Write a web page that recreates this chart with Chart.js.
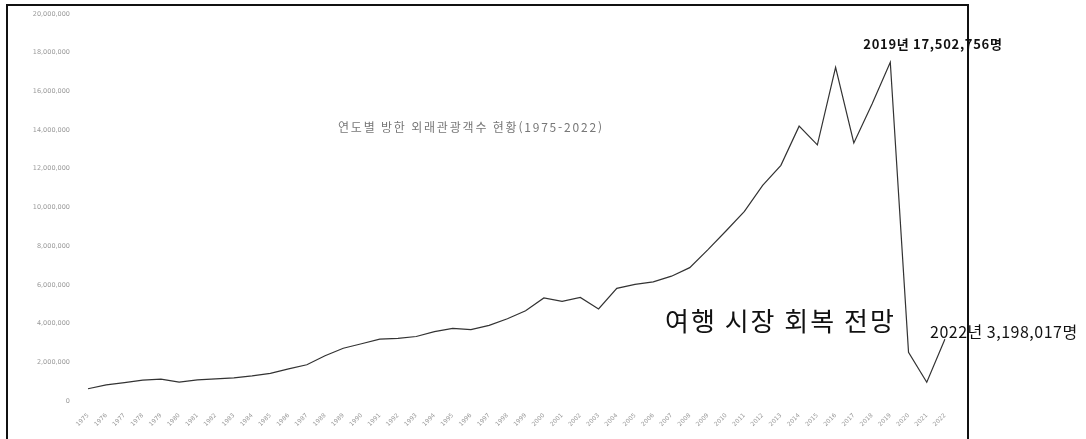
<!DOCTYPE html>
<html lang="ko">
<head>
<meta charset="utf-8">
<script src="https://cdn.jsdelivr.net/npm/chart.js@4"></script>
<style>
  html, body { margin: 0; padding: 0; background: #fff; }
  #wrap { width: 1086px; height: 439px; position: relative; }
</style>
</head>
<body>
<div id="wrap"><canvas id="chart"></canvas></div>
<script>
// 연도별 방한 외래관광객수 (1975-2022)
const years = [
  '1975','1976','1977','1978','1979','1980','1981','1982','1983','1984',
  '1985','1986','1987','1988','1989','1990','1991','1992','1993','1994',
  '1995','1996','1997','1998','1999','2000','2001','2002','2003','2004',
  '2005','2006','2007','2008','2009','2010','2011','2012','2013','2014',
  '2015','2016','2017','2018','2019','2020','2021','2022'
];
const visitors = [
  632846, 834239, 949666, 1079396, 1126100, 976415, 1093214, 1145044, 1194551, 1297318,
  1426045, 1659972, 1874501, 2340462, 2728054, 2958839, 3196340, 3231081, 3331226, 3580024,
  3753197, 3683779, 3908140, 4250216, 4659785, 5321792, 5147204, 5347468, 4752762, 5818138,
  6022752, 6155046, 6448240, 6890841, 7817533, 8797658, 9794796, 11140028, 12175550, 14201516,
  13231651, 17241823, 13335758, 15346879, 17502756, 2519118, 967003, 3198017
];
const yTicks = { min: 0, max: 20000000, step: 2000000 };

const chartTitle = '연도별 방한 외래관광객수 현황(1975-2022)';
const notePeak = '2019년 17,502,756명';
const noteLast = '2022년 3,198,017명';
const noteOutlook = '여행 시장 회복 전망';

// 제목, 메모, 테두리 그리기
const notes = {
  id: 'notes',
  afterDraw(chart) {
    const ctx = chart.ctx;
    const xs = chart.scales.x, ys = chart.scales.y;
    const area = chart.chartArea;
    ctx.save();

    // 스캔 이미지 테두리
    ctx.strokeStyle = '#111';
    ctx.lineWidth = 2;
    ctx.beginPath();
    ctx.moveTo(7, 439);
    ctx.lineTo(7, 5);
    ctx.lineTo(968, 5);
    ctx.lineTo(968, 439);
    ctx.stroke();

    ctx.textBaseline = 'middle';

    ctx.fillStyle = '#777';
    ctx.font = '12px "Noto Sans CJK KR"';
    ctx.letterSpacing = '1.8px';
    ctx.textAlign = 'left';
    ctx.fillText(chartTitle, 338, 127);

    ctx.fillStyle = '#111';
    const i19 = years.indexOf('2019');
    ctx.font = 'bold 13px "Noto Sans CJK KR"';
    ctx.letterSpacing = '0.7px';
    ctx.fillText(notePeak, xs.getPixelForValue(i19) - 27, ys.getPixelForValue(visitors[i19]) - 18);

    const i22 = years.indexOf('2022');
    ctx.font = '16px "Noto Sans CJK KR"';
    ctx.letterSpacing = '0.5px';
    ctx.fillText(noteLast, xs.getPixelForValue(i22) - 15, ys.getPixelForValue(visitors[i22]) - 7);

    ctx.font = '26px "Noto Sans CJK KR"';
    ctx.letterSpacing = '2px';
    ctx.fillText(noteOutlook, 665, 321);

    ctx.restore();
  }
};

new Chart(document.getElementById('chart'), {
  type: 'line',
  data: {
    labels: years,
    datasets: [{
      label: '방한 외래관광객수',
      data: visitors,
      borderColor: '#333',
      borderWidth: 1.2,
      pointRadius: 0,
      tension: 0,
      fill: false
    }]
  },
  options: {
    responsive: true,
    maintainAspectRatio: false,
    animation: false,
    layout: { padding: { left: 0, right: 141, top: 10, bottom: 0 } },
    plugins: {
      legend: { display: false },
      tooltip: { enabled: false }
    },
    scales: {
      x: {
        grid: { display: false },
        border: { display: false },
        ticks: {
          autoSkip: false,
          minRotation: 45,
          maxRotation: 45,
          color: '#999',
          font: { size: 6, family: 'DejaVu Sans' },
          padding: 3
        },
        afterFit(s) { s.height = 38; }
      },
      y: {
        min: yTicks.min,
        max: yTicks.max,
        grid: { display: false },
        border: { display: false },
        ticks: {
          stepSize: yTicks.step,
          color: '#999',
          font: { size: 6.5, family: 'DejaVu Sans' },
          padding: 10,
          callback: v => v.toLocaleString('en-US')
        },
        afterFit(s) { s.width = 88; }
      }
    }
  },
  plugins: [notes]
});
</script>
</body>
</html>
